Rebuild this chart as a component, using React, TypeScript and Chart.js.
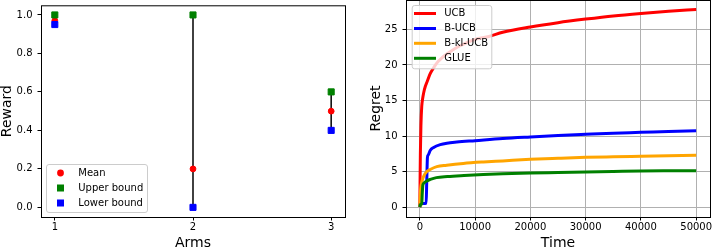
import React, { useEffect, useRef } from 'react';
import { Chart, registerables } from 'chart.js';

Chart.register(...registerables);

// ---------- Left panel data ----------
const arms = [1, 2, 3];
const meanReward = [0.97, 0.2, 0.5];
const upperBound = [1.0, 1.0, 0.6];
const lowerBound = [0.95, 0.0, 0.4];
const armTicks = [1, 2, 3];
const rewardTicks = [0, 0.2, 0.4, 0.6, 0.8, 1.0];

// ---------- Right panel data ----------
const timeUCB = [0, 50, 100, 200, 350, 500, 700, 1000, 1300, 1900, 2500, 3100, 4000, 5000, 7000, 9000, 10000, 12500, 15000, 20000, 25000, 30000, 35000, 40000, 45000, 50000];
const regretUCB = [0, 4, 7.5, 11.5, 14.2, 15.2, 16.1, 17.0, 17.6, 18.8, 19.6, 20.3, 21.0, 21.6, 22.6, 23.3, 23.6, 24.0, 24.6, 25.35, 25.95, 26.45, 26.9, 27.25, 27.55, 27.8];

const timeBUCB = [0, 60, 600, 1150, 1250, 1380, 1500, 1900, 2500, 3700, 4900, 6700, 10000, 15000, 20000, 25000, 30000, 35000, 40000, 45000, 50000];
const regretBUCB = [0, 0.5, 0.52, 0.55, 3.5, 7.0, 7.3, 8.0, 8.4, 8.8, 9.0, 9.15, 9.35, 9.65, 9.87, 10.07, 10.24, 10.4, 10.52, 10.65, 10.76];

const timeBklUCB = [0, 50, 100, 200, 370, 670, 1270, 1870, 3070, 4870, 7870, 11500, 15000, 20000, 25000, 30000, 35000, 40000, 45000, 50000];
const regretBklUCB = [0, 1.2, 2.0, 2.9, 3.6, 4.3, 5.0, 5.3, 5.7, 5.9, 6.15, 6.35, 6.5, 6.72, 6.87, 7.0, 7.08, 7.15, 7.22, 7.29];

const timeGLUE = [0, 100, 350, 450, 550, 700, 1300, 1900, 3000, 5000, 8000, 11500, 15000, 20000, 25000, 30000, 35000, 40000, 45000, 50000];
const regretGLUE = [0, 0.35, 0.5, 2.0, 3.1, 3.35, 3.7, 3.9, 4.15, 4.3, 4.45, 4.6, 4.7, 4.8, 4.87, 4.94, 5.01, 5.08, 5.11, 5.13];

const timeTicks = [0, 10000, 20000, 30000, 40000, 50000];
const regretTicks = [0, 5, 10, 15, 20, 25];

const FONT = 'DejaVu Sans';

const framePlugin = {
  id: 'frame',
  afterDatasetsDraw(chart: any) {
    const { ctx, chartArea: a } = chart;
    ctx.save();
    ctx.strokeStyle = '#000';
    ctx.lineWidth = 1;
    ctx.strokeRect(a.left + 0.5, a.top + 0.5, a.right - a.left, a.bottom - a.top);
    ctx.restore();
  },
};

function roundRectPath(ctx: CanvasRenderingContext2D, x: number, y: number, w: number, h: number, r: number) {
  ctx.beginPath();
  ctx.moveTo(x + r, y);
  ctx.lineTo(x + w - r, y);
  ctx.arcTo(x + w, y, x + w, y + r, r);
  ctx.lineTo(x + w, y + h - r);
  ctx.arcTo(x + w, y + h, x + w - r, y + h, r);
  ctx.lineTo(x + r, y + h);
  ctx.arcTo(x, y + h, x, y + h - r, r);
  ctx.lineTo(x, y + r);
  ctx.arcTo(x, y, x + r, y, r);
  ctx.closePath();
}

const boxLegendPlugin = {
  id: 'boxLegend',
  afterDatasetsDraw(chart: any, _args: any, opts: any) {
    const { ctx } = chart;
    const items = chart.data.datasets.filter((d: any) => d.label);
    ctx.save();
    roundRectPath(ctx, opts.x + 0.5, opts.y + 0.5, opts.w, opts.h, 2.5);
    ctx.fillStyle = 'rgba(255,255,255,0.8)';
    ctx.fill();
    ctx.strokeStyle = '#cccccc';
    ctx.lineWidth = 1;
    ctx.stroke();
    items.forEach((d: any, i: number) => {
      const cy = opts.rows[i];
      if (opts.kind === 'line') {
        ctx.strokeStyle = d.borderColor;
        ctx.lineWidth = 3;
        ctx.lineCap = 'butt';
        ctx.beginPath();
        ctx.moveTo(opts.symX0, cy);
        ctx.lineTo(opts.symX1, cy);
        ctx.stroke();
      } else {
        ctx.fillStyle = d.backgroundColor;
        if (d.pointStyle === 'rect') {
          ctx.fillRect(opts.symX - 3.5, cy - 3.5, 7, 7);
        } else {
          ctx.beginPath();
          ctx.arc(opts.symX, cy, 3.4, 0, Math.PI * 2);
          ctx.fill();
        }
      }
      ctx.fillStyle = '#000';
      ctx.font = `10px "${FONT}"`;
      ctx.textBaseline = 'middle';
      ctx.textAlign = 'left';
      ctx.fillText(d.label, opts.textX, cy);
    });
    ctx.restore();
  },
};

const tickFont = { family: FONT, size: 10 };
const titleFont = { family: FONT, size: 14, lineHeight: 1 };

function fixedTicks(values: number[]) {
  return (scale: any) => {
    scale.ticks = values.map((v) => ({ value: v }));
  };
}

function xFit(h: number) {
  return (scale: any) => {
    scale.height = h;
    scale.paddingLeft = 0;
    scale.paddingRight = 0;
  };
}

function yFit(w: number) {
  return (scale: any) => {
    scale.width = w;
    scale.paddingTop = 0;
    scale.paddingBottom = 0;
  };
}

function makeLeftConfig(): any {
  const pts = (vals: number[]) => arms.map((a, i) => ({ x: a, y: vals[i] }));
  return {
    type: 'scatter',
    data: {
      datasets: [
        ...arms.map((a, i) => ({
          data: [
            { x: a, y: lowerBound[i] },
            { x: a, y: upperBound[i] },
          ],
          showLine: true,
          borderColor: '#111',
          borderWidth: 1.6,
          pointRadius: 0,
          order: 10,
        })),
        {
          label: 'Mean',
          data: pts(meanReward),
          pointStyle: 'circle',
          backgroundColor: '#ff0000',
          borderColor: '#ff0000',
          borderWidth: 1,
          pointRadius: 2.9,
          order: 3,
        },
        {
          label: 'Upper bound',
          data: pts(upperBound),
          pointStyle: 'rect',
          backgroundColor: '#008000',
          borderColor: '#008000',
          borderWidth: 1,
          pointRadius: 4.3,
          order: 2,
        },
        {
          label: 'Lower bound',
          data: pts(lowerBound),
          pointStyle: 'rect',
          backgroundColor: '#0000ff',
          borderColor: '#0000ff',
          borderWidth: 1,
          pointRadius: 4.3,
          order: 1,
        },
      ],
    },
    options: {
      responsive: false,
      animation: false,
      devicePixelRatio: 1,
      layout: { padding: { left: 0, right: 7, top: 0, bottom: 0 } },
      plugins: {
        legend: { display: false },
        tooltip: { enabled: false },
        boxLegend: { kind: 'point', x: 46, y: 164, w: 101, h: 48, rows: [173, 188, 203], symX: 60.5, textX: 78.3 },
      },
      scales: {
        x: {
          type: 'linear',
          min: 0.9,
          max: 3.1,
          afterBuildTicks: fixedTicks(armTicks),
          afterFit: xFit(35),
          border: { display: false },
          grid: { drawOnChartArea: false, drawTicks: true, tickLength: 3.5, tickColor: '#000', tickWidth: 1 },
          ticks: { font: tickFont, color: '#000', padding: 1, maxRotation: 0, autoSkip: false, callback: (v: any) => String(v) },
          title: { display: true, text: 'Arms', font: { ...titleFont, lineHeight: 1.2 }, color: '#000', padding: { top: 0, bottom: 0.6 } },
        },
        y: {
          type: 'linear',
          min: -0.05,
          max: 1.05,
          afterBuildTicks: fixedTicks(rewardTicks),
          afterFit: yFit(41),
          border: { display: false },
          grid: { drawOnChartArea: false, drawTicks: true, tickLength: 3.5, tickColor: '#000', tickWidth: 1 },
          ticks: { font: tickFont, color: '#000', padding: 5, autoSkip: false, callback: (v: any) => Number(v).toFixed(1) },
          title: { display: true, text: 'Reward', font: titleFont, color: '#000', padding: { top: 0, bottom: 0 } },
        },
      },
    },
    plugins: [framePlugin, boxLegendPlugin],
  };
}

function makeRightConfig(): any {
  const series = (ts: number[], vs: number[]) => ts.map((t, i) => ({ x: t, y: vs[i] }));
  const lineDs = (label: string, color: string, ts: number[], vs: number[], order: number) => ({
    label,
    data: series(ts, vs),
    showLine: true,
    borderColor: color,
    backgroundColor: color,
    borderWidth: 3,
    pointRadius: 0,
    cubicInterpolationMode: 'monotone',
    borderCapStyle: 'butt',
    borderJoinStyle: 'round',
    order,
  });
  return {
    type: 'scatter',
    data: {
      datasets: [
        lineDs('UCB', '#ff0000', timeUCB, regretUCB, 4),
        lineDs('B-UCB', '#0000ff', timeBUCB, regretBUCB, 3),
        lineDs('B-kl-UCB', '#ffa500', timeBklUCB, regretBklUCB, 2),
        lineDs('GLUE', '#008000', timeGLUE, regretGLUE, 1),
      ],
    },
    options: {
      responsive: false,
      animation: false,
      devicePixelRatio: 1,
      layout: { padding: { left: 0, right: 2, top: 0, bottom: 0 } },
      plugins: {
        legend: { display: false },
        tooltip: { enabled: false },
        boxLegend: { kind: 'line', x: 59.7, y: 5, w: 79.6, h: 63.3, rows: [13.5, 28.5, 43.3, 58.3], symX0: 62, symX1: 84, textX: 92.3 },
      },
      scales: {
        x: {
          type: 'linear',
          min: -2500,
          max: 52500,
          afterBuildTicks: fixedTicks(timeTicks),
          afterFit: xFit(35),
          border: { display: false },
          grid: { drawOnChartArea: true, color: '#b0b0b0', lineWidth: 1, drawTicks: true, tickLength: 3.5, tickColor: '#000', tickWidth: 1 },
          ticks: { font: tickFont, color: '#000', padding: 1, maxRotation: 0, autoSkip: false, callback: (v: any) => String(v) },
          title: { display: true, text: 'Time', font: { ...titleFont, lineHeight: 1.2 }, color: '#000', padding: { top: 0, bottom: 0.6 } },
        },
        y: {
          type: 'linear',
          min: -1.3875,
          max: 29.1375,
          afterBuildTicks: fixedTicks(regretTicks),
          afterFit: yFit(54),
          border: { display: false },
          grid: { drawOnChartArea: true, color: '#b0b0b0', lineWidth: 1, drawTicks: true, tickLength: 3.5, tickColor: '#000', tickWidth: 1 },
          ticks: { font: tickFont, color: '#000', padding: 5, autoSkip: false, callback: (v: any) => String(v) },
          title: { display: true, text: 'Regret', font: titleFont, color: '#000', padding: { top: 17.2, bottom: 0 } },
        },
      },
    },
    plugins: [framePlugin, boxLegendPlugin],
  };
}

export default function App() {
  const leftRef = useRef<HTMLCanvasElement | null>(null);
  const rightRef = useRef<HTMLCanvasElement | null>(null);

  useEffect(() => {
    const c1 = new Chart(leftRef.current as HTMLCanvasElement, makeLeftConfig());
    const c2 = new Chart(rightRef.current as HTMLCanvasElement, makeRightConfig());
    return () => {
      c1.destroy();
      c2.destroy();
    };
  }, []);

  return (
    <div style={{ position: 'absolute', left: 0, top: 0, width: 712, height: 252, background: '#fff', overflow: 'hidden' }}>
      <canvas ref={leftRef} width={352} height={252} style={{ position: 'absolute', left: 0, top: 0, width: 352, height: 252 }} />
      <canvas ref={rightRef} width={360} height={252} style={{ position: 'absolute', left: 352, top: 0, width: 360, height: 252 }} />
    </div>
  );
}
